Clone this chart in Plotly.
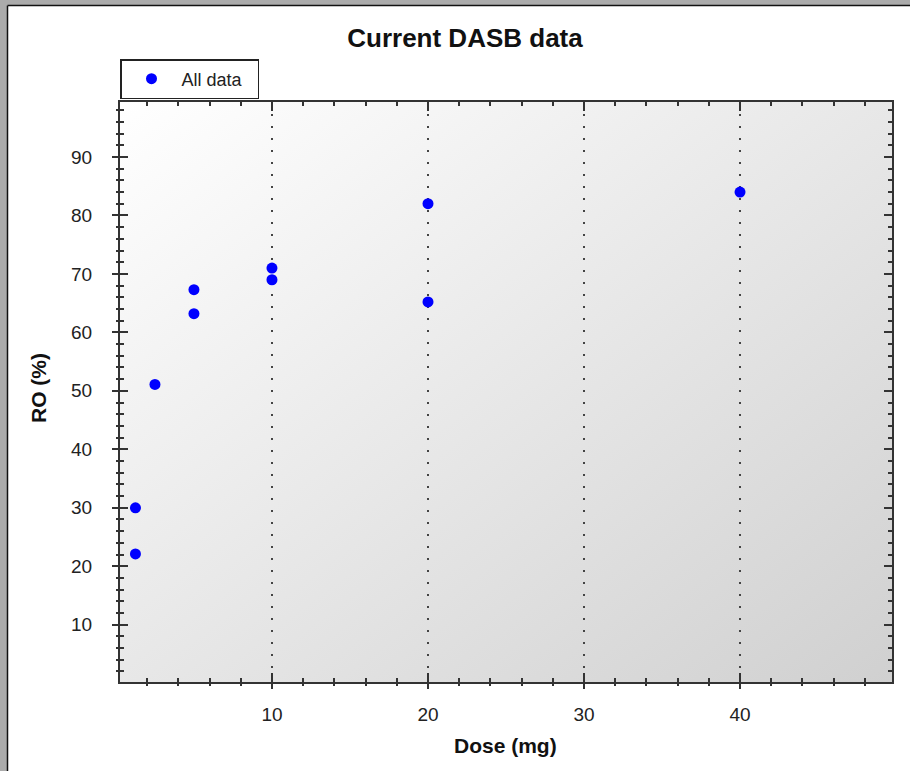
import base64
import plotly.graph_objects as go

# ---- data ----
dose_mg = [1.25, 1.25, 2.5, 5, 5, 10, 10, 20, 20, 40]
ro_pct = [30.0, 22.1, 51.1, 67.3, 63.2, 71.0, 69.0, 82.0, 65.2, 84.0]
series_name = "All data"
chart_title = "Current DASB data"
x_title = "Dose (mg)"
y_title = "RO (%)"

X_RANGE = [0.26, 49.74]
Y_RANGE = [0.2, 99.4]

# plot-area geometry (px)
W, H = 910, 771
L, R, T, B = 120, 18, 102, 89
PW, PH = W - L - R, H - T - B


def px2x(px):
    return (px - L) / PW


def py2y(py):
    return (H - B - py) / PH


grad_svg = (
    '<svg xmlns="http://www.w3.org/2000/svg" width="100" height="100" preserveAspectRatio="none">'
    '<defs><linearGradient id="g" x1="0" y1="0" x2="1" y2="1">'
    '<stop offset="0" stop-color="#ffffff"/><stop offset="1" stop-color="#d0d0d0"/>'
    '</linearGradient></defs><rect width="100" height="100" fill="url(#g)"/></svg>'
)
grad_uri = "data:image/svg+xml;base64," + base64.b64encode(grad_svg.encode()).decode()

FONT = "Liberation Sans, Arial, sans-serif"
AXC = "#333333"

fig = go.Figure()
fig.add_trace(go.Scatter(
    x=dose_mg, y=ro_pct, mode="markers", name=series_name,
    marker=dict(color="#0000ff", size=11),
))
fig.add_trace(go.Scatter(x=[], y=[], xaxis="x2", yaxis="y2", showlegend=False, hoverinfo="skip"))

common_minor = dict(dtick=2, ticklen=4, tickwidth=2, tickcolor=AXC, showgrid=False)

fig.update_layout(
    width=W, height=H,
    margin=dict(l=L, r=R, t=T, b=B),
    paper_bgcolor="white",
    plot_bgcolor="rgba(0,0,0,0)",
    title=dict(text=f"<b>{chart_title}</b>", x=465 / W, xref="container", xanchor="center",
               y=(H - 38) / H, yref="container", yanchor="middle",
               font=dict(family=FONT, size=26, color="#111")),
    showlegend=True,
    legend=dict(x=0, y=py2y(79), xanchor="left", yanchor="middle",
                orientation="h", entrywidth=71, entrywidthmode="pixels",
                bordercolor="#222", borderwidth=1.5, bgcolor="white",
                font=dict(family=FONT, size=18, color="#222"),
                itemwidth=50),
    xaxis=dict(range=X_RANGE, tickmode="linear", tick0=0, dtick=10,
               ticks="inside", ticklen=9, tickwidth=2, tickcolor=AXC,
               showline=True, linecolor=AXC, linewidth=2, mirror="ticks",
               showgrid=True, gridcolor="#444", gridwidth=2, griddash="2px,10px",
               zeroline=False, showticklabels=True,
               ticklabelstandoff=14,
               tickfont=dict(family=FONT, size=19, color="#222"),
               minor=dict(ticks="inside", **common_minor)),
    yaxis=dict(range=Y_RANGE, tickmode="linear", tick0=0, dtick=10,
               ticks="inside", ticklen=8, tickwidth=2, tickcolor=AXC,
               showline=True, linecolor=AXC, linewidth=2, mirror="ticks",
               showgrid=False, zeroline=False,
               ticklabelstandoff=22,
               tickfont=dict(family=FONT, size=19, color="#222"),
               minor=dict(ticks="inside", **common_minor)),
    xaxis2=dict(range=X_RANGE, overlaying="x", anchor="y", side="bottom",
                tickmode="linear", tick0=0, dtick=10,
                ticks="outside", ticklen=6, tickwidth=2, tickcolor=AXC,
                showline=False, showgrid=False, zeroline=False, showticklabels=False,
                minor=dict(ticks="outside", dtick=2, ticklen=3, tickwidth=2, tickcolor=AXC, showgrid=False)),
    yaxis2=dict(range=Y_RANGE, overlaying="y", anchor="x", side="left",
                tickmode="linear", tick0=0, dtick=10,
                ticks="outside", ticklen=7, tickwidth=2, tickcolor=AXC,
                showline=False, showgrid=False, zeroline=False, showticklabels=False,
                minor=dict(ticks="outside", dtick=2, ticklen=3, tickwidth=2, tickcolor=AXC, showgrid=False)),
    images=[dict(source=grad_uri, xref="paper", yref="paper", x=0, y=1, sizex=1, sizey=1,
                 sizing="stretch", xanchor="left", yanchor="top", layer="below")],
    annotations=[
        dict(text=f"<b>{x_title}</b>", xref="paper", yref="paper", x=px2x(505), y=py2y(745),
             xanchor="center", yanchor="middle", showarrow=False,
             font=dict(family=FONT, size=21, color="#111")),
        dict(text=f"<b>{y_title}</b>", xref="paper", yref="paper", x=px2x(38), y=py2y(388),
             xanchor="center", yanchor="middle", showarrow=False, textangle=-90,
             font=dict(family=FONT, size=21, color="#111")),
    ],
    shapes=[
        dict(type="rect", xref="paper", yref="paper", x0=-0.3, x1=px2x(7), y0=-0.3, y1=1.4,
             fillcolor="#ababab", line=dict(width=0), layer="above"),
        dict(type="rect", xref="paper", yref="paper", x0=-0.3, x1=1.3, y0=py2y(5), y1=1.4,
             fillcolor="#ababab", line=dict(width=0), layer="above"),
        dict(type="line", xref="paper", yref="paper", x0=px2x(7.5), x1=px2x(7.5), y0=-0.3, y1=py2y(5.5),
             line=dict(color="#111", width=1.5), layer="above"),
        dict(type="line", xref="paper", yref="paper", x0=px2x(7.5), x1=1.3, y0=py2y(5.5), y1=py2y(5.5),
             line=dict(color="#111", width=1.5), layer="above"),
    ],
)

fig.write_html("out.html", config={"displayModeBar": False},
               post_script="document.body.style.margin='0';")
